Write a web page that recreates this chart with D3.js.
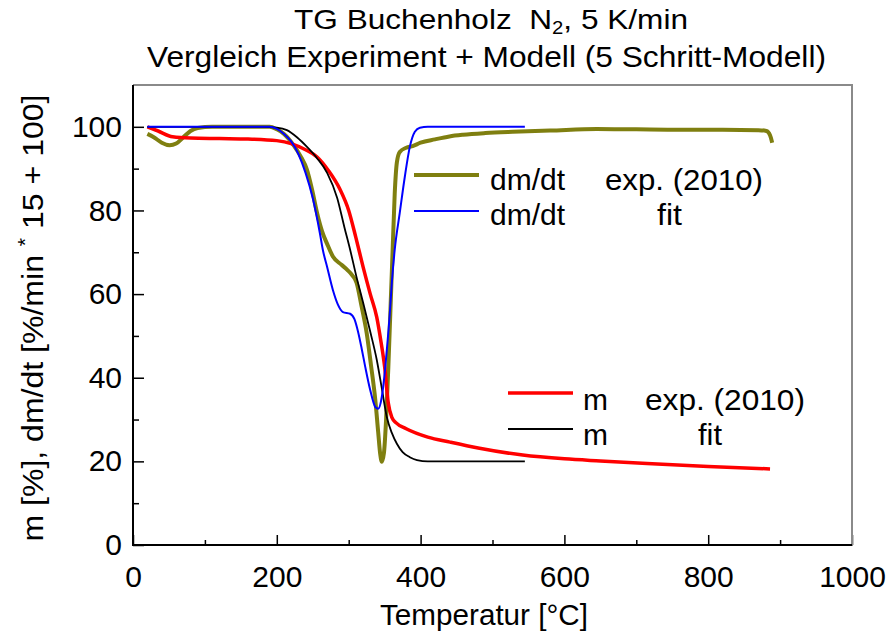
<!DOCTYPE html>
<html>
<head>
<meta charset="utf-8">
<script src="https://cdn.jsdelivr.net/npm/d3@7"></script>
<style>
  body { margin: 0; background: #fff; }
  text { font-family: "Liberation Sans", Arial, sans-serif; fill: #000; white-space: pre; }
</style>
</head>
<body>
<div id="chart"></div>
<script>
/* TG Buchenholz - Experiment vs. 5-Schritt-Modell */

// temperature [°C], value
const mExp = [[20,100],[35,99],[55,97.6],[80,97.3],[120,97.2],[160,97.1],[200,96.7],[220,96],[240,94.5],
  [256,92.8],[272,89.5],[288,85],[300,80],[310,73.5],[320,66.5],[330,60],[339,54.5],[345,48.5],[350,42.6],
  [355,34],[360,30.5],[366,29.2],[380,27.8],[410,25.8],[441,24.6],[480,23.2],[542,21.5],[600,20.6],
  [650,20.1],[715,19.5],[800,18.8],[886,18.2]];

const mFit = [[20,100],[180,100],[200,99.8],[214,99.2],[228,97.5],[242,95.2],[256,92.5],[270,89],[284,83],
  [294,76],[302,70.6],[311,64],[320,58],[330,51],[339,44.3],[346,37.5],[353,30.6],[360,26.8],[367,24.2],
  [375,22.2],[385,21],[395,20.3],[410,20],[545,20]];

const dmExp = [[20,98.3],[30,97.4],[40,96.2],[51,95.6],[60,96],[70,97.5],[80,99],[90,99.7],[110,100],
  [190,100],[200,99.4],[210,98.3],[223,95.7],[233,93],[242,89.7],[249,85],[256,79.4],[263,75],[270,72],
  [278,69],[290,67],[298,65.8],[305,64.5],[311,62.7],[318,57],[325,50.7],[331,43],[337,34.7],[341,27],
  [344,21.5],[346,19.9],[349,22],[352,30],[355,42],[358,56],[361,70],[364,84],[367,91.5],[371,94],
  [380,95],[389,95.4],[400,96.2],[420,97],[440,97.7],[459,98.1],[490,98.5],[528,98.8],[580,99.1],
  [645,99.5],[700,99.4],[761,99.3],[820,99.3],[870,99.2],[881,99],[886,98],[889,96.2]];

const dmFit = [[20,100],[190,100],[200,99.5],[210,98.3],[220,96.5],[230,93.5],[240,89],[250,83],[260,74.5],
  [264,70.6],[270,66.5],[278,61],[285,57.5],[292,55.7],[302,55.3],[308,54],[313,51],[318,47],[323,42.6],
  [330,37],[337,33],[341,32.6],[346,35.4],[350,41],[353,46.6],[357,55],[360,62.7],[364,70.6],[371,79.4],
  [378,88],[385,95.2],[392,98.8],[399,99.8],[410,100],[545,100]];

const xTicks = [0, 200, 400, 600, 800, 1000];
const xMinor = [100, 300, 500, 700, 900];
const yTicks = [0, 20, 40, 60, 80, 100];
const yMinor = [10, 30, 50, 70, 90];

const seriesNames = ["dmExp", "dmFit", "mExp", "mFit"];
const legendLeft = ["dm/dt", "dm/dt", "m", "m"];
const legendRight = ["exp. (2010)", "fit", "exp. (2010)", "fit"];

const width = 889, height = 635,
      margin = {top: 85, right: 37, bottom: 90, left: 133};

const svg = d3.select("#chart").append("svg")
    .attr("width", width)
    .attr("height", height);

const x = d3.scaleLinear().domain([0, 1000]).range([margin.left, width - margin.right]);
const y = d3.scaleLinear().domain([0, 110]).range([height - margin.bottom, margin.top]);

// minor + major ticks, pointing inwards
svg.append("g")
    .attr("transform", `translate(0,${y(0)})`)
    .call(d3.axisBottom(x).tickValues(xMinor).tickSize(-5).tickFormat(""))
    .call(g => g.select(".domain").remove());
svg.append("g")
    .attr("transform", `translate(0,${y(0)})`)
    .call(d3.axisBottom(x).tickValues(xTicks).tickSize(-10).tickPadding(21).tickFormat(d3.format("d")))
    .call(g => g.select(".domain").remove())
    .call(g => g.selectAll("text").attr("font-size", 30).attr("font-family", null));

svg.append("g")
    .attr("transform", `translate(${x(0)},0)`)
    .call(d3.axisLeft(y).tickValues(yMinor).tickSize(-6).tickFormat(""))
    .call(g => g.select(".domain").remove());
svg.append("g")
    .attr("transform", `translate(${x(0)},0)`)
    .call(d3.axisLeft(y).tickValues(yTicks).tickSize(-11).tickPadding(11))
    .call(g => g.select(".domain").remove())
    .call(g => g.selectAll("text").attr("font-size", 30).attr("font-family", null));

svg.selectAll(".tick line").attr("stroke", "#000").attr("stroke-width", 1.5);

// frame
svg.append("path")
    .attr("d", `M${x(0)},${y(0)}H${x(1000)}V${y(110)}H${x(0)}`)
    .attr("fill", "none").attr("stroke", "#8a8a8a").attr("stroke-width", 2);
svg.append("path")
    .attr("d", `M${x(0)},${y(110)}V${y(0)}H${x(1000)}`)
    .attr("fill", "none").attr("stroke", "#000").attr("stroke-width", 2);

const line = d3.line()
    .x(d => x(d[0]))
    .y(d => y(d[1]))
    .curve(d3.curveMonotoneX);

const styles = {
  dmExp: {data: dmExp, color: "#7f7f10", w: 4},
  mExp:  {data: mExp,  color: "#ff0000", w: 3.5},
  mFit:  {data: mFit,  color: "#000000", w: 1.8},
  dmFit: {data: dmFit, color: "#0000ff", w: 2}
};

["dmExp", "mExp", "mFit", "dmFit"].forEach(k => {
  svg.append("path")
      .datum(styles[k].data)
      .attr("fill", "none")
      .attr("stroke", styles[k].color)
      .attr("stroke-width", styles[k].w)
      .attr("stroke-linejoin", "round")
      .attr("d", line);
});

// legends
const legendPos = [
  {lx: 414, lw: 65, ly: 175, tx: 490, rx: 605, rw: 158, base: 190},
  {lx: 414, lw: 65, ly: 211, tx: 490, rx: 657, rw: 25,  base: 225},
  {lx: 508, lw: 65, ly: 393, tx: 583, rx: 645, rw: 160, base: 410},
  {lx: 508, lw: 65, ly: 429, tx: 583, rx: 698, rw: 24,  base: 445}
];

seriesNames.forEach((k, i) => {
  const p = legendPos[i];
  svg.append("line")
      .attr("x1", p.lx).attr("x2", p.lx + p.lw)
      .attr("y1", p.ly).attr("y2", p.ly)
      .attr("stroke", styles[k].color)
      .attr("stroke-width", styles[k].w);
  svg.append("text")
      .attr("x", p.tx).attr("y", p.base)
      .attr("font-size", 30)
      .text(legendLeft[i]);
  svg.append("text")
      .attr("x", p.rx).attr("y", p.base)
      .attr("font-size", 30)
      .attr("textLength", p.rw)
      .attr("lengthAdjust", "spacingAndGlyphs")
      .text(legendRight[i]);
});

// titles
const t1 = svg.append("text")
    .attr("x", 294).attr("y", 29)
    .attr("font-size", 28)
    .attr("textLength", 394)
    .attr("lengthAdjust", "spacingAndGlyphs");
t1.append("tspan").text("TG Buchenholz  N");
t1.append("tspan").attr("font-size", 18).attr("dy", 5).text("2");
t1.append("tspan").attr("dy", -5).text(", 5 K/min");

svg.append("text")
    .attr("x", 147).attr("y", 67)
    .attr("font-size", 30)
    .attr("textLength", 679)
    .attr("lengthAdjust", "spacingAndGlyphs")
    .text("Vergleich Experiment + Modell (5 Schritt-Modell)");

svg.append("text")
    .attr("x", 484).attr("y", 625)
    .attr("text-anchor", "middle")
    .attr("font-size", 30)
    .attr("textLength", 208)
    .attr("lengthAdjust", "spacingAndGlyphs")
    .text("Temperatur [°C]");

const yl = svg.append("text")
    .attr("transform", "translate(43,318) rotate(-90)")
    .attr("text-anchor", "middle")
    .attr("font-size", 30)
    .attr("textLength", 447)
    .attr("lengthAdjust", "spacingAndGlyphs");
yl.append("tspan").text("m [%], dm/dt [%/min ");
yl.append("tspan").attr("font-size", 20).attr("dy", -11).text("*");
yl.append("tspan").attr("dy", 11).text(" 15 + 100]");
</script>
</body>
</html>
